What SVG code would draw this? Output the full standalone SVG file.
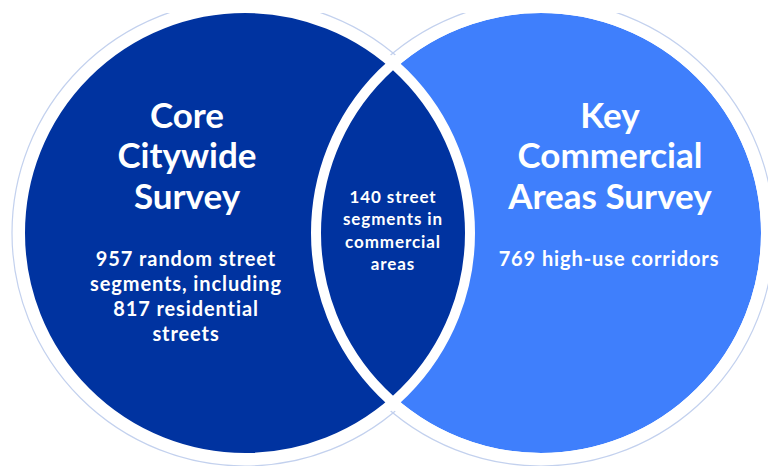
<svg xmlns="http://www.w3.org/2000/svg" width="768" height="466" viewBox="0 0 768 466">
<style>
.t{font-family:Lato,"Open Sans","Liberation Sans",sans-serif;font-weight:700;fill:#ffffff;text-anchor:middle}
.title{font-size:35px}
.body{font-size:20px;letter-spacing:0.9px}
.mid{font-size:17px;letter-spacing:0.9px}
.ring{fill:none;stroke:#c3d1ee;stroke-width:1.2}
.edge{stroke:#ffffff;stroke-width:10}
</style>
<defs>
<clipPath id="crop"><rect x="0" y="13" width="768" height="453"/></clipPath>
</defs>
<rect width="768" height="466" fill="#ffffff"/>
<g clip-path="url(#crop)">
<g id="outlines">
<circle class="ring" cx="245" cy="233" r="233"/>
<circle class="ring" cx="541" cy="233" r="233"/>
</g>
<g id="right-circle">
<circle class="edge" cx="541" cy="233" r="225" fill="#3f7ffc"/>
</g>
<g id="left-circle">
<circle class="edge" cx="245" cy="233" r="225" fill="#0033a0"/>
</g>
<g id="overlap">
<circle class="edge" cx="541" cy="233" r="225" fill="none"/>
</g>
</g>
<g id="left-text">
<text class="t title" x="187" y="128">Core</text>
<text class="t title" x="187" y="168">Citywide</text>
<text class="t title" x="187" y="209">Survey</text>
<text class="t body" x="186" y="266">957 random street</text>
<text class="t body" x="186" y="291">segments, including</text>
<text class="t body" x="186" y="316">817 residential</text>
<text class="t body" x="186" y="341">streets</text>
</g>
<g id="right-text">
<text class="t title" x="610" y="128">Key</text>
<text class="t title" x="610" y="168">Commercial</text>
<text class="t title" x="610" y="209">Areas Survey</text>
<text class="t body" x="609" y="266">769 high-use corridors</text>
</g>
<g id="overlap-text">
<text class="t mid" x="393" y="203">140 street</text>
<text class="t mid" x="393" y="225">segments in</text>
<text class="t mid" x="393" y="248">commercial</text>
<text class="t mid" x="393" y="270">areas</text>
</g>
</svg>
